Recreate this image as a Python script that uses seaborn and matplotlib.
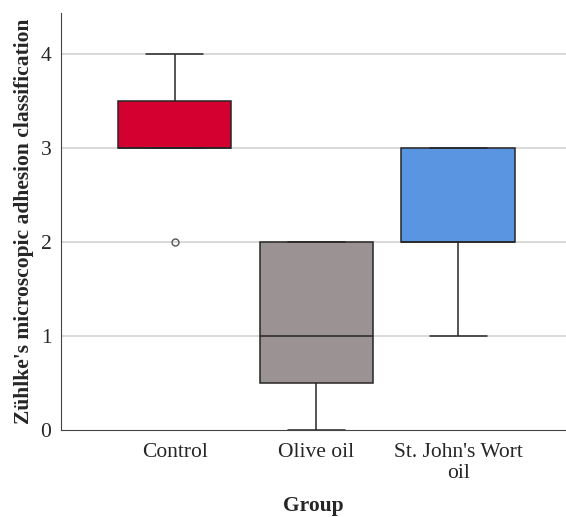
import numpy as np
import pandas as pd
import matplotlib
import matplotlib.pyplot as plt
import seaborn as sns
matplotlib.use('Agg')

groups = ["Control", "Olive oil", "St. John's Wort\noil"]
control_scores = [2, 3, 3, 3, 3, 4, 4]
olive_scores = [0, 0, 1, 1, 2, 2, 2]
sjw_scores = [1, 2, 2, 2, 3, 3, 3]
box_colors = ["#d40030", "#9b9393", "#5a95e2"]

df = pd.DataFrame({
    "Group": [groups[0]] * len(control_scores) + [groups[1]] * len(olive_scores) + [groups[2]] * len(sjw_scores),
    "score": control_scores + olive_scores + sjw_scores,
})

sns.set_style("white")
plt.rcParams['font.family'] = ['Liberation Serif', 'DejaVu Serif']

fig = plt.figure(figsize=(5.66, 5.17), dpi=100)
ax = fig.add_axes([0.108, 0.168, 0.892, 0.807])
for y in [1, 2, 3, 4]:
    ax.axhline(y, color="#cfcfcf", lw=1.1, zorder=0)

sns.boxplot(data=df, x="Group", y="score", hue="Group", palette=box_colors, order=groups,
            width=0.8, legend=False, ax=ax, saturation=1,
            linecolor="#262626", linewidth=1.1,
            flierprops=dict(marker="o", markersize=5, markerfacecolor="none",
                            markeredgecolor="#555555", markeredgewidth=1))

ax.set_xlim(-0.8, 2.76)
ax.set_ylim(0, 4.44)
ax.set_yticks([0, 1, 2, 3, 4])
ax.tick_params(axis="both", length=0, labelsize=15.5)
ax.tick_params(axis="x", pad=9)
ax.tick_params(axis="y", pad=7)
ax.set_ylabel("Zühlke's microscopic adhesion classification", fontsize=15.5, fontweight="bold", labelpad=5)
ax.set_xlabel("Group", fontsize=15.5, fontweight="bold", labelpad=9)
for s in ["top", "right"]:
    ax.spines[s].set_visible(False)
ax.spines["left"].set_color("#444444")
ax.spines["bottom"].set_color("#444444")

fig.savefig("out.png", dpi=100)
plt.close()
